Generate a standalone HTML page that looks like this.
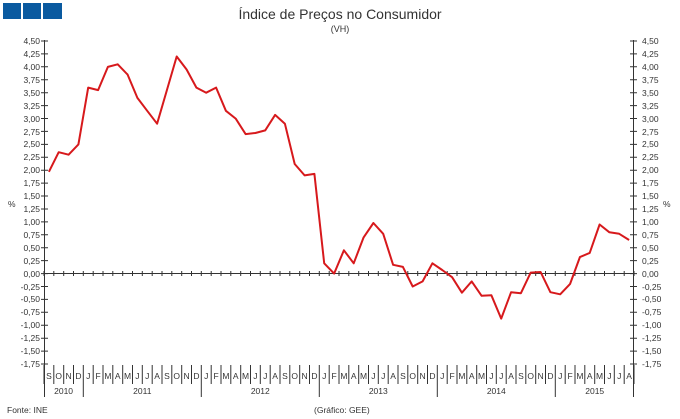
<!DOCTYPE html>
<html><head><meta charset="utf-8"><style>
html,body{margin:0;padding:0;background:#fff;}
svg{display:block;font-family:"Liberation Sans",sans-serif;}
.t{font-size:8.5px;fill:#333;}
</style></head><body>
<svg id="s" width="680" height="419" viewBox="0 0 680 419" xmlns="http://www.w3.org/2000/svg">
<rect x="3" y="3" width="18" height="16" fill="#0a5aa0"/>
<rect x="23" y="3" width="18" height="16" fill="#0a5aa0"/>
<rect x="43" y="3" width="19" height="16" fill="#0a5aa0"/>
<text x="340" y="19" text-anchor="middle" font-size="14" fill="#333">Índice de Preços no Consumidor</text>
<text x="340" y="32" text-anchor="middle" font-size="9" fill="#333">(VH)</text>
<text x="8" y="207" class="t">%</text>
<text x="663" y="207" class="t">%</text>
<g id="g" stroke="#333" stroke-width="1" fill="none"></g>
<g class="t" text-anchor="end">
<text x="40" y="44">4,50</text><text x="40" y="57">4,25</text><text x="40" y="70">4,00</text><text x="40" y="83">3,75</text><text x="40" y="96">3,50</text><text x="40" y="109">3,25</text><text x="40" y="122">3,00</text><text x="40" y="135">2,75</text><text x="40" y="147">2,50</text><text x="40" y="160">2,25</text><text x="40" y="173">2,00</text><text x="40" y="186">1,75</text><text x="40" y="199">1,50</text><text x="40" y="212">1,25</text><text x="40" y="225">1,00</text><text x="40" y="238">0,75</text><text x="40" y="251">0,50</text><text x="40" y="264">0,25</text><text x="40" y="277">0,00</text><text x="40" y="290">-0,25</text><text x="40" y="302">-0,50</text><text x="40" y="315">-0,75</text><text x="40" y="328">-1,00</text><text x="40" y="341">-1,25</text><text x="40" y="354">-1,50</text><text x="40" y="367">-1,75</text>
</g>
<g class="t" text-anchor="start">
<text x="642" y="44">4,50</text><text x="642" y="57">4,25</text><text x="642" y="70">4,00</text><text x="642" y="83">3,75</text><text x="642" y="96">3,50</text><text x="642" y="109">3,25</text><text x="642" y="122">3,00</text><text x="642" y="135">2,75</text><text x="642" y="147">2,50</text><text x="642" y="160">2,25</text><text x="642" y="173">2,00</text><text x="642" y="186">1,75</text><text x="642" y="199">1,50</text><text x="642" y="212">1,25</text><text x="642" y="225">1,00</text><text x="642" y="238">0,75</text><text x="642" y="251">0,50</text><text x="642" y="264">0,25</text><text x="642" y="277">0,00</text><text x="642" y="290">-0,25</text><text x="642" y="302">-0,50</text><text x="642" y="315">-0,75</text><text x="642" y="328">-1,00</text><text x="642" y="341">-1,25</text><text x="642" y="354">-1,50</text><text x="642" y="367">-1,75</text>
</g>
<g class="t" text-anchor="middle">
<text x="48.9" y="379">S</text><text x="58.7" y="379">O</text><text x="68.6" y="379">N</text><text x="78.4" y="379">D</text>
<text x="88.2" y="379">J</text><text x="98.1" y="379">F</text><text x="107.9" y="379">M</text><text x="117.7" y="379">A</text><text x="127.6" y="379">M</text><text x="137.4" y="379">J</text><text x="147.2" y="379">J</text><text x="157.1" y="379">A</text><text x="166.9" y="379">S</text><text x="176.7" y="379">O</text><text x="186.6" y="379">N</text><text x="196.4" y="379">D</text>
<text x="206.2" y="379">J</text><text x="216.1" y="379">F</text><text x="225.9" y="379">M</text><text x="235.7" y="379">A</text><text x="245.6" y="379">M</text><text x="255.4" y="379">J</text><text x="265.2" y="379">J</text><text x="275.1" y="379">A</text><text x="284.9" y="379">S</text><text x="294.7" y="379">O</text><text x="304.6" y="379">N</text><text x="314.4" y="379">D</text>
<text x="324.2" y="379">J</text><text x="334.1" y="379">F</text><text x="343.9" y="379">M</text><text x="353.7" y="379">A</text><text x="363.6" y="379">M</text><text x="373.4" y="379">J</text><text x="383.2" y="379">J</text><text x="393.1" y="379">A</text><text x="402.9" y="379">S</text><text x="412.7" y="379">O</text><text x="422.6" y="379">N</text><text x="432.4" y="379">D</text>
<text x="442.2" y="379">J</text><text x="452.1" y="379">F</text><text x="461.9" y="379">M</text><text x="471.7" y="379">A</text><text x="481.6" y="379">M</text><text x="491.4" y="379">J</text><text x="501.2" y="379">J</text><text x="511.1" y="379">A</text><text x="520.9" y="379">S</text><text x="530.7" y="379">O</text><text x="540.6" y="379">N</text><text x="550.4" y="379">D</text>
<text x="560.2" y="379">J</text><text x="570.1" y="379">F</text><text x="579.9" y="379">M</text><text x="589.7" y="379">A</text><text x="599.6" y="379">M</text><text x="609.4" y="379">J</text><text x="619.2" y="379">J</text><text x="629.1" y="379">A</text>
<text x="63.6" y="394">2010</text><text x="142.3" y="394">2011</text><text x="260.3" y="394">2012</text><text x="378.3" y="394">2013</text><text x="496.3" y="394">2014</text><text x="594.7" y="394">2015</text>
</g>
<text x="7" y="413" class="t">Fonte: INE</text>
<text x="314" y="413" class="t">(Gráfico: GEE)</text>
<polyline id="p" fill="none" stroke="#d7191c" stroke-width="2" stroke-linejoin="round"/>
</svg>
<script>
var g=document.getElementById('g'),d='';
function Y(v){return 273.6-v*51.68;}
function X(i){return 44+9.8333*(i+0.5);}
d+='M44.5 40V397M633.5 40V397M44 273.5H634';
for(var k=0;k<26;k++){var y=(41+k*12.92).toFixed(1);d+='M41 '+y+'H48M630 '+y+'H637';}
for(var i=0;i<=60;i++){var x=(44+9.8333*i).toFixed(1);d+='M'+x+' 271V276';d+='M'+x+' 365V384';}
[83.3,201.3,319.3,437.3,555.3].forEach(function(x){d+='M'+x+' 365V397';});
var p=document.createElementNS('http://www.w3.org/2000/svg','path');p.setAttribute('d',d);g.appendChild(p);
var v=[1.97,2.35,2.30,2.50,3.60,3.55,4.00,4.05,3.85,3.40,3.15,2.90,3.55,4.20,3.95,3.60,3.50,3.60,3.15,3.00,2.70,2.72,2.77,3.07,2.90,2.12,1.90,1.93,0.20,0.00,0.45,0.20,0.70,0.98,0.77,0.17,0.13,-0.25,-0.15,0.20,0.07,-0.07,-0.37,-0.15,-0.43,-0.42,-0.87,-0.36,-0.38,0.02,0.03,-0.36,-0.40,-0.20,0.32,0.40,0.95,0.80,0.77,0.65];
document.getElementById('p').setAttribute('points',v.map(function(a,i){return X(i).toFixed(1)+','+Y(a).toFixed(1);}).join(' '));
</script>
</body></html>
